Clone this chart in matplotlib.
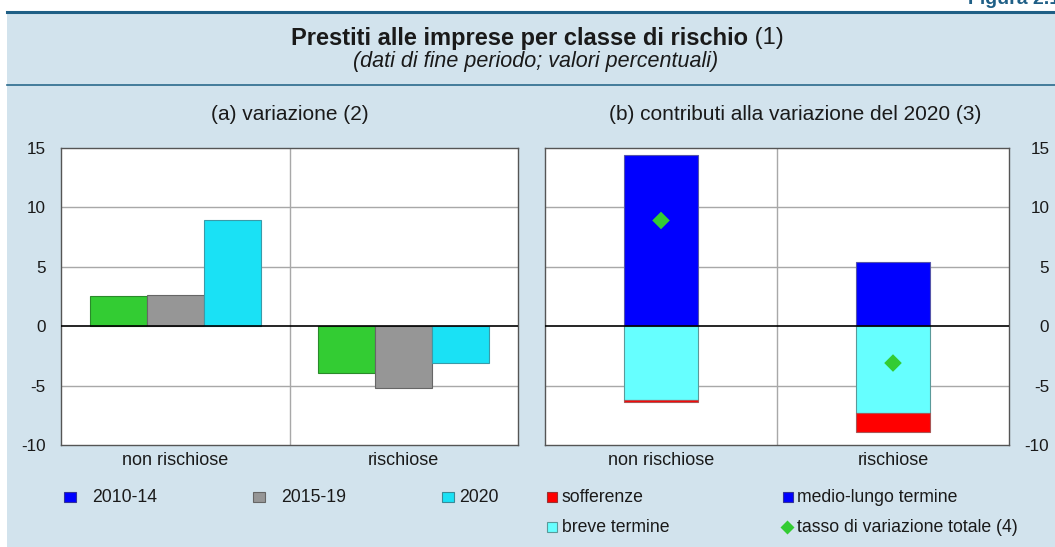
import matplotlib
matplotlib.use("Agg")
import matplotlib.pyplot as plt
from matplotlib.patches import Rectangle
from matplotlib.lines import Line2D
import numpy as np

plt.rcParams['font.family'] = ['Liberation Sans', 'DejaVu Sans']
plt.rcParams['axes.unicode_minus'] = False

# ---- data ----
categories = ["non rischiose", "rischiose"]
periods = ["2010-14", "2015-19", "2020"]
var_2010_14 = [2.5, -3.9]
var_2015_19 = [2.6, -5.2]
var_2020 = [8.9, -3.1]

contrib_labels = ["sofferenze", "medio-lungo termine", "breve termine", "tasso di variazione totale (4)"]
medio_lungo = [14.45, 5.4]
breve = [-6.25, -7.3]
sofferenze = [-0.12, -1.6]
tasso_totale = [8.9, -3.1]

yticks = [-10, -5, 0, 5, 10, 15]

# ---- style ----
W, H = 1055, 547
BG = "#d2e3ed"
DARK = "#1f5f86"
TXT = "#1a1a1a"
c_green = "#33cc33"
c_gray = "#969696"
c_cyan = "#1ae1f5"
c_blue = "#0000ff"
c_lcyan = "#66ffff"
c_red = "#ff0000"
FS_TICK = 12.3
FS_CAT = 13
FS_LEG = 12.7

fig = plt.figure(figsize=(W / 100, H / 100), dpi=100)
fig.patch.set_facecolor("white")

def fx(px):
    return px / W

def fy(py):
    return 1 - py / H

# background panel
fig.patches.append(Rectangle((fx(7), 0), 1 - fx(7), fy(12), transform=fig.transFigure,
                             facecolor=BG, edgecolor="none", zorder=-5))
fig.lines.append(Line2D([fx(7), 1], [fy(12), fy(12)], transform=fig.transFigure,
                        color=DARK, lw=2.2, zorder=1))
fig.lines.append(Line2D([fx(7), 1], [fy(85), fy(85)], transform=fig.transFigure,
                        color="#2a6a8c", lw=1.2, zorder=1))
fig.text(fx(1060), fy(4), "Figura 2.1", ha="right", va="baseline", fontsize=14,
         fontweight="bold", color=DARK)

# title (bold + normal)
t1 = fig.text(0, fy(38), "Prestiti alle imprese per classe di rischio", fontsize=17,
              fontweight="bold", ha="left", va="center", color=TXT)
t2 = fig.text(0, fy(38), " (1)", fontsize=17, ha="left", va="center", color=TXT)
fig.canvas.draw()
r = fig.canvas.get_renderer()
w1 = t1.get_window_extent(r).width
w2 = t2.get_window_extent(r).width
x0 = 537 - (w1 + w2) / 2
t1.set_x(fx(x0))
t2.set_x(fx(x0 + w1))
fig.text(fx(536), fy(62), "(dati di fine periodo; valori percentuali)", fontsize=15.5,
         style="italic", ha="center", va="center", color=TXT)

# axes
axL = fig.add_axes([fx(61), fy(445), fx(518 - 61), (445 - 148) / H])
axR = fig.add_axes([fx(545), fy(445), fx(1009 - 545), (445 - 148) / H])
axL.set_zorder(2)
axR.set_zorder(2)

def style_axes(ax):
    ax.set_facecolor("white")
    ax.set_xlim(-0.5, 1.5)
    ax.set_ylim(-10, 15)
    ax.set_yticks(yticks)
    ax.set_xticks([0, 1])
    ax.set_xticklabels(categories, fontsize=FS_CAT, color=TXT)
    ax.tick_params(axis="x", length=0, pad=5)
    ax.tick_params(axis="y", length=0, labelsize=FS_TICK, labelcolor=TXT)
    for s in ax.spines.values():
        s.set_color("#555555")
        s.set_linewidth(1.0)
    for y in [-5, 5, 10]:
        ax.axhline(y, color="#a8a8a8", lw=1.0, zorder=0.5)
    ax.axvline(0.5, color="#a8a8a8", lw=1.0, zorder=0.5)
    ax.axhline(0, color="black", lw=1.2, zorder=3)

style_axes(axL)
style_axes(axR)

axL.tick_params(axis="y", pad=11)

axR.yaxis.tick_right()
for lab in axR.get_yticklabels():
    lab.set_horizontalalignment("right")
axR.tick_params(axis="y", pad=29)

# left panel bars
x = np.arange(len(categories))
bw = 0.25
axL.bar(x - bw, var_2010_14, bw, color=c_green, edgecolor="#2a8a2a", lw=0.8, zorder=2)
axL.bar(x, var_2015_19, bw, color=c_gray, edgecolor="#666666", lw=0.8, zorder=2)
axL.bar(x + bw, var_2020, bw, color=c_cyan, edgecolor="#3a9aa8", lw=0.8, zorder=2)

# right panel stacked
bw2 = 0.315
axR.bar(x, medio_lungo, bw2, color=c_blue, edgecolor="#5555aa", lw=0.8, zorder=2)
axR.bar(x, breve, bw2, color=c_lcyan, edgecolor="#5a9a9a", lw=0.8, zorder=2)
axR.bar(x, sofferenze, bw2, bottom=breve, color=c_red, edgecolor="#aa5555", lw=0.8, zorder=2)
axR.scatter(x, tasso_totale, marker="D", s=80, color=c_green, zorder=4, edgecolors="none")

fig.text(fx(290), fy(115), "(a) variazione (2)", fontsize=15, ha="center", va="center",
         color=TXT)
fig.text(fx(795), fy(115), "(b) contributi alla variazione del 2020 (3)", fontsize=15,
         ha="center", va="center", color=TXT)

# legends (manual)
def sq(px, py, color, ec, w=10, h=10):
    fig.patches.append(Rectangle((fx(px), fy(py + h / 2)), w / W, h / H,
                                 transform=fig.transFigure, facecolor=color,
                                 edgecolor=ec, lw=0.8, zorder=5))

def lt(px, py, txt):
    fig.text(fx(px), fy(py), txt, fontsize=FS_LEG, ha="left", va="center", color=TXT)

ly1, ly2 = 497, 527
sq(64, ly1, c_blue, "#333399", 12, 10); lt(92, ly1, periods[0])
sq(253, ly1, c_gray, "#666666", 12, 10); lt(281, ly1, periods[1])
sq(442, ly1, c_cyan, "#3a8a98", 12, 10); lt(459, ly1, periods[2])

sq(547, ly1, c_red, "#993333"); lt(562, ly1, contrib_labels[0])
sq(783, ly1, c_blue, "#333399"); lt(797, ly1, contrib_labels[1])
sq(547, ly2, c_lcyan, "#5a9a9a"); lt(562, ly2, contrib_labels[2])
fig.lines.append(Line2D([fx(787)], [fy(ly2)], transform=fig.transFigure, marker="D",
                        markersize=7, color=c_green, markeredgecolor="none", zorder=5))
lt(797, ly2, contrib_labels[3])

fig.savefig("out.png", dpi=100, facecolor=fig.get_facecolor())
